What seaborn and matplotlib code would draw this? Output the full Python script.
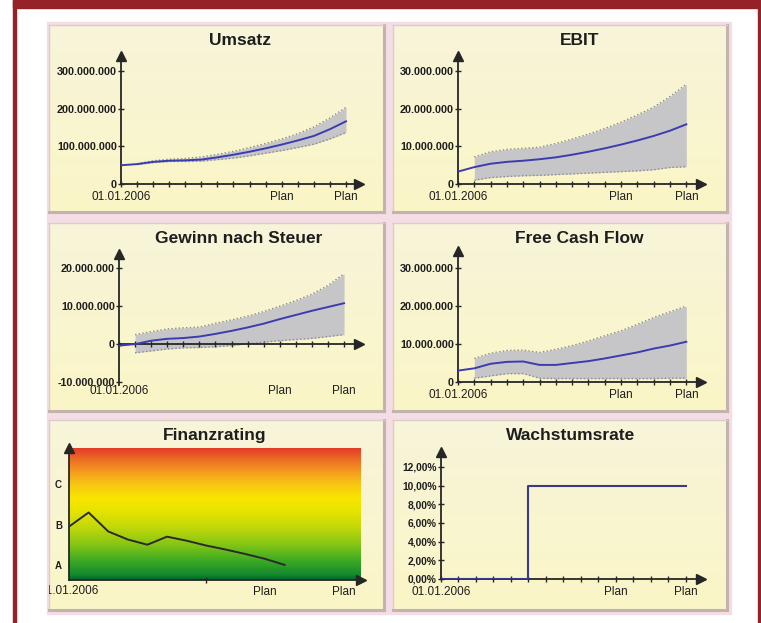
import numpy as np
import matplotlib
matplotlib.use("Agg")
import matplotlib.pyplot as plt
import seaborn as sns
from matplotlib.patches import Rectangle
from matplotlib.colors import LinearSegmentedColormap
from matplotlib import transforms

# ---------------- data ----------------
nan = np.nan
steps = list(range(15))            # 0 = 01.01.2006 ... 14 = Plan
band_steps = list(range(1, 15))
x_tick_labels = ["01.01.2006", "", "", "", "", "", "", "", "", "", "Plan", "", "", "", "Plan"]

# values in millions
umsatz_mid = [50, 53, 59, 62, 63, 65, 71, 78, 86, 95, 105, 116, 128, 146, 167]
umsatz_hi = [54, 62, 66, 68, 72, 79, 87, 97, 108, 120, 134, 152, 176, 204]
umsatz_lo = [52, 57, 60, 60, 61, 65, 69, 75, 82, 89, 97, 106, 120, 137]
umsatz_yticks = [0, 100, 200, 300]
umsatz_ylabels = ["0", "100.000.000", "200.000.000", "300.000.000"]

ebit_mid = [3.3, 4.5, 5.4, 5.9, 6.2, 6.6, 7.1, 7.8, 8.6, 9.5, 10.5, 11.6, 12.8, 14.2, 15.9]
ebit_hi = [7.2, 8.6, 9.2, 9.5, 9.8, 10.8, 12.0, 13.3, 14.8, 16.5, 18.4, 20.5, 23.3, 26.6]
ebit_lo = [1.0, 1.7, 2.0, 2.2, 2.3, 2.5, 2.7, 2.9, 3.1, 3.3, 3.5, 3.8, 4.4, 4.6]
mio_yticks = [0, 10, 20, 30]
mio_ylabels = ["0", "10.000.000", "20.000.000", "30.000.000"]

gewinn_mid = [-0.4, 0.0, 0.9, 1.4, 1.6, 2.0, 2.7, 3.5, 4.4, 5.4, 6.6, 7.7, 8.8, 9.8, 10.8]
gewinn_hi = [2.5, 3.3, 4.0, 4.3, 4.5, 5.5, 6.4, 7.4, 8.6, 10.0, 11.5, 13.2, 15.5, 18.6]
gewinn_lo = [-2.3, -1.8, -1.3, -1.0, -0.9, -0.7, -0.4, 0.1, 0.5, 0.9, 1.2, 1.5, 2.0, 2.5]
gewinn_yticks = [-10, 0, 10, 20]
gewinn_ylabels = ["-10.000.000", "0", "10.000.000", "20.000.000"]

fcf_mid = [3.0, 3.6, 4.8, 5.3, 5.4, 4.5, 4.5, 5.0, 5.5, 6.2, 7.0, 7.8, 8.8, 9.6, 10.6]
fcf_hi = [6.2, 7.6, 8.3, 8.4, 7.8, 8.6, 9.6, 10.8, 12.2, 13.5, 15.2, 17.0, 18.5, 20.0]
fcf_lo = [1.0, 1.6, 2.2, 2.2, 1.0, 0.9, 0.9, 0.9, 0.9, 0.9, 0.9, 0.9, 1.0, 1.0]

rating_steps = list(range(12))
rating_vals = [1.95, 2.3, 1.83, 1.63, 1.5, 1.7, 1.6, 1.48, 1.38, 1.27, 1.15, 1.0]
rating_yticks = [1, 2, 3]
rating_ylabels = ["A", "B", "C"]

wachstum_vals = [0, 0, 0, 0, 0, 10, 10, 10, 10, 10, 10, 10, 10, 10, 10]
wachstum_yticks = [0, 2, 4, 6, 8, 10, 12]
wachstum_ylabels = ["0,00%", "2,00%", "4,00%", "6,00%", "8,00%", "10,00%", "12,00%"]

titles = ["Umsatz", "EBIT", "Gewinn nach Steuer", "Free Cash Flow", "Finanzrating", "Wachstumsrate"]

# ---------------- style ----------------
plt.rcParams["font.family"] = ["Liberation Sans", "DejaVu Sans"]
W, H = 761, 623
RED = "#952229"
PINK = "#f5dde5"
AX = "#262626"
TXT = "#1e1e1e"
BAND = "#c6c6c9"
BAND_EDGE = "#8a8a8a"
MID = "#3c3cb0"
YFS = 7.8
XFS = 8.5

fig = plt.figure(figsize=(W / 100, H / 100), dpi=100)
fig.patch.set_facecolor("white")


def px(l, t, r, b):
    return [l / W, 1 - b / H, (r - l) / W, (b - t) / H]


# outer frame
fig.add_artist(Rectangle((47 / W, 1 - 614 / H), (731 - 47) / W, (614 - 22) / H,
                         transform=fig.transFigure, color=PINK, zorder=-10))
fig.add_artist(Rectangle((13 / W, 1 - 8 / H), 1 - 13 / W, 8 / H, transform=fig.transFigure, color=RED, zorder=5))
fig.add_artist(Rectangle((13 / W, 0), 3 / W, 1, transform=fig.transFigure, color=RED, zorder=5))
fig.add_artist(Rectangle((758 / W, 0), 3 / W, 1, transform=fig.transFigure, color=RED, zorder=5))

bg_cmap = LinearSegmentedColormap.from_list("bg", ["#fbf6c6", "#f7f4da"])
rating_cmap = LinearSegmentedColormap.from_list("rating", [
    (0.0, "#00652b"), (0.04, "#138a2e"), (0.15, "#3fab23"), (0.27, "#86c614"),
    (0.40, "#c2d80a"), (0.52, "#e6e300"), (0.62, "#f7e700"), (0.72, "#f8c812"),
    (0.82, "#f49c1f"), (0.92, "#ec6a26"), (1.0, "#e33b28")])
grad = np.linspace(0, 1, 256).reshape(-1, 1)


def panel(l, t, r, b):
    pa = fig.add_axes(px(l, t, r, b))
    pa.imshow(grad, cmap=bg_cmap, aspect="auto", extent=(0, 1, 0, 1), origin="lower")
    pa.set_xlim(0, 1)
    pa.set_ylim(0, 1)
    pa.set_xticks([])
    pa.set_yticks([])
    for s in ["left", "top"]:
        pa.spines[s].set_color("#d8cec8")
        pa.spines[s].set_linewidth(1.0)
    for s in ["right", "bottom"]:
        pa.spines[s].set_color("#c2b3ad")
        pa.spines[s].set_linewidth(2.2)
    return pa


def inner(l, t, r, b, title, title_pad):
    ax = fig.add_axes(px(l, t, r, b))
    ax.set_facecolor("none")
    ax.set_title(title, pad=title_pad, fontsize=12.5, fontweight="bold", color=TXT)
    for s in ["top", "right"]:
        ax.spines[s].set_visible(False)
    for s in ["left", "bottom"]:
        ax.spines[s].set_color(AX)
        ax.spines[s].set_linewidth(1.3)
    ax.tick_params(axis="both", direction="inout", length=4, width=1, color=AX)
    ax.tick_params(axis="y", pad=1, labelsize=YFS, labelcolor=TXT)
    ax.tick_params(axis="x", pad=3.2, labelsize=XFS, labelcolor=TXT)
    return ax


def bold_ylabels(ax):
    for t in ax.get_yticklabels():
        t.set_fontweight("bold")


def arrows(ax, x_axis_y):
    ax.plot(1, x_axis_y, ">", ms=7.5, color=AX, transform=ax.get_yaxis_transform(), clip_on=False)
    ax.plot(0, 1, "^", ms=7.5, color=AX, transform=ax.transAxes, clip_on=False)


def band_chart(ax, mid, hi, lo, yticks, ylabels, ylim, xlim, labels_at_bottom=False):
    ax.fill_between(band_steps, lo, hi, color=BAND, lw=0, zorder=1)
    sns.lineplot(x=band_steps, y=hi, ax=ax, color=BAND_EDGE, lw=1, linestyle=":", zorder=2)
    sns.lineplot(x=band_steps, y=lo, ax=ax, color=BAND_EDGE, lw=1, linestyle=":", zorder=2)
    sns.lineplot(x=steps, y=mid, ax=ax, color=MID, lw=1.4, zorder=3)
    ax.set_yticks(yticks, ylabels)
    bold_ylabels(ax)
    ax.set_xticks(steps, x_tick_labels)
    ax.spines["bottom"].set_position(("data", 0))
    if labels_at_bottom:
        ax.tick_params(axis="x", labelbottom=False)
        tr = transforms.offset_copy(transforms.blended_transform_factory(ax.transData, ax.transAxes),
                                    fig=fig, y=0, units="dots")
        for xv, lab in zip(steps, x_tick_labels):
            if lab:
                ax.text(xv, 0, lab, transform=tr, ha="center", va="top", fontsize=XFS, color=TXT)
    arrows(ax, 0)
    ax.set_xlim(*xlim)
    ax.set_ylim(*ylim)
    ax.set_xlabel("")
    ax.set_ylabel("")


# Row 1
panel(49, 25, 384, 212)
ax1 = inner(121, 56, 359, 184, titles[0], 8.2)
band_chart(ax1, umsatz_mid, umsatz_hi, umsatz_lo, umsatz_yticks, umsatz_ylabels, (0, 341), (0, 14.81))

panel(393, 25, 727, 212)
ax2 = inner(458, 56, 701, 184, titles[1], 8.2)
band_chart(ax2, ebit_mid, ebit_hi, ebit_lo, mio_yticks, mio_ylabels, (0, 34.1), (0, 14.9))

# Row 2
panel(49, 223, 384, 411)
ax3 = inner(119, 254, 359, 385, titles[2], 7.9)
band_chart(ax3, gewinn_mid, gewinn_hi, gewinn_lo, gewinn_yticks, gewinn_ylabels, (-10.8, 23.8), (0, 14.93),
           labels_at_bottom=True)

panel(393, 223, 727, 411)
ax4 = inner(458, 251, 701, 382, titles[3], 5.8)
band_chart(ax4, fcf_mid, fcf_hi, fcf_lo, mio_yticks, mio_ylabels, (0, 34.5), (0, 14.9))

# Row 3: Finanzrating
pa5 = panel(49, 420, 384, 610)
ax5 = inner(69, 448, 361, 580, titles[4], 5.8)
ax5.imshow(grad, cmap=rating_cmap, aspect="auto", extent=(0, 1, 0, 1), origin="lower",
           transform=ax5.transAxes, zorder=0)
sns.lineplot(x=rating_steps, y=rating_vals, ax=ax5, color="#2a2a2a", lw=1.4, zorder=3)
ax5.set_yticks(rating_yticks, rating_ylabels)
ax5.tick_params(axis="y", length=0, pad=5, labelsize=7)
bold_ylabels(ax5)
ax5.set_xticks([10, 14], ["Plan", "Plan"])
ax5.set_xticks([7, 14], minor=True)
ax5.tick_params(axis="x", which="major", length=0, pad=4.5)
ax5.tick_params(axis="x", which="minor", direction="inout", length=4, width=1, color=AX)
tr5 = transforms.offset_copy(transforms.blended_transform_factory(ax5.transData, ax5.transAxes),
                             fig=fig, y=-4.5, units="dots")
t5 = pa5.text(0, 0, x_tick_labels[0], transform=tr5, ha="center", va="top", fontsize=XFS, color=TXT)
t5.set_clip_path(pa5.patch)
t5.set_clip_on(True)
ax5.plot(1, 0, ">", ms=7.5, color=AX, transform=ax5.transAxes, clip_on=False)
ax5.plot(0, 1, "^", ms=7.5, color=AX, transform=ax5.transAxes, clip_on=False)
ax5.set_xlim(0, 14.9)
ax5.set_ylim(0.625, 3.9)
ax5.set_xlabel("")
ax5.set_ylabel("")

# Row 3: Wachstumsrate
panel(393, 420, 727, 610)
ax6 = inner(441, 452, 701, 579, titles[5], 8.6)
sns.lineplot(x=steps, y=wachstum_vals, ax=ax6, color="#3a3a8c", lw=1.5, drawstyle="steps-post", zorder=3)
ax6.set_yticks(wachstum_yticks, wachstum_ylabels)
ax6.set_xticks(steps, x_tick_labels)
ax6.tick_params(axis="y", labelsize=7.4)
bold_ylabels(ax6)
arrows(ax6, 0)
ax6.set_xlim(0, 14.86)
ax6.set_ylim(0, 13.6)
ax6.set_xlabel("")
ax6.set_ylabel("")

fig.savefig("out.png", dpi=100, facecolor=fig.get_facecolor())
